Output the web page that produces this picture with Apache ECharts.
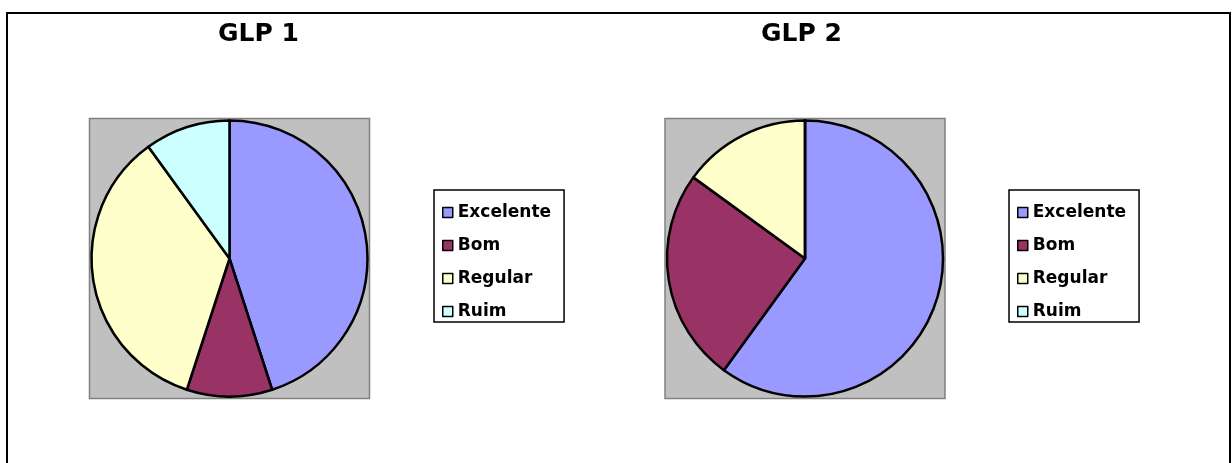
<!DOCTYPE html>
<html>
<head>
<meta charset="utf-8">
<script src="https://cdn.jsdelivr.net/npm/echarts@6/dist/echarts.min.js"></script>
<style>
  html, body { margin: 0; padding: 0; background: #fff; }
  #main { width: 1232px; height: 463px; }
</style>
</head>
<body>
<div id="main"></div>
<script>
var categories = ['Excelente', 'Bom', 'Regular', 'Ruim'];
var glp1Values = [45, 10, 35, 10];
var glp2Values = [60, 25, 15, 0];
var colors = ['#9999FF', '#993366', '#FFFFCC', '#CCFFFF'];

var chart = echarts.init(document.getElementById('main'), null, { renderer: 'canvas' });

function pieData(values) {
  return categories.map(function (name, i) {
    return { name: name, value: values[i] };
  });
}

function legendAt(left) {
  return {
    orient: 'vertical',
    left: left,
    top: 190,
    data: categories,
    icon: 'rect',
    itemWidth: 10,
    itemHeight: 10,
    itemGap: 16,
    padding: [14, 13, 2, 8],
    borderColor: '#000',
    borderWidth: 1.5,
    selectedMode: false,
    itemStyle: { borderColor: '#000', borderWidth: 1.5 },
    textStyle: { fontFamily: 'DejaVu Sans', fontWeight: 'bold', fontSize: 17, color: '#000' }
  };
}

var pieCommon = {
  type: 'pie',
  radius: 138,
  startAngle: 90,
  clockwise: true,
  animation: false,
  silent: true,
  label: { show: false },
  labelLine: { show: false },
  itemStyle: { borderColor: '#000', borderWidth: 2.5 }
};

var option = {
  color: colors,
  animation: false,
  title: [
    { text: 'GLP 1', left: 218, top: 22, padding: 0,
      textStyle: { fontFamily: 'DejaVu Sans', fontWeight: 'bold', fontSize: 25, color: '#000' } },
    { text: 'GLP 2', left: 761, top: 22, padding: 0,
      textStyle: { fontFamily: 'DejaVu Sans', fontWeight: 'bold', fontSize: 25, color: '#000' } }
  ],
  legend: [legendAt(434), legendAt(1009)],
  graphic: [
    { type: 'rect', z: -10, shape: { x: 7, y: 13, width: 1223, height: 480 },
      style: { fill: '#fff', stroke: '#000', lineWidth: 2 } },
    { type: 'rect', z: -5, shape: { x: 89.5, y: 118.5, width: 280, height: 280 },
      style: { fill: '#C0C0C0', stroke: '#808080', lineWidth: 1.5 } },
    { type: 'rect', z: -5, shape: { x: 665, y: 118.5, width: 280, height: 280 },
      style: { fill: '#C0C0C0', stroke: '#808080', lineWidth: 1.5 } }
  ],
  series: [
    Object.assign({}, pieCommon, { name: 'GLP 1', center: [229.5, 258.5], data: pieData(glp1Values) }),
    Object.assign({}, pieCommon, { name: 'GLP 2', center: [805, 258.5], data: pieData(glp2Values) })
  ]
};

chart.setOption(option);
</script>
</body>
</html>
